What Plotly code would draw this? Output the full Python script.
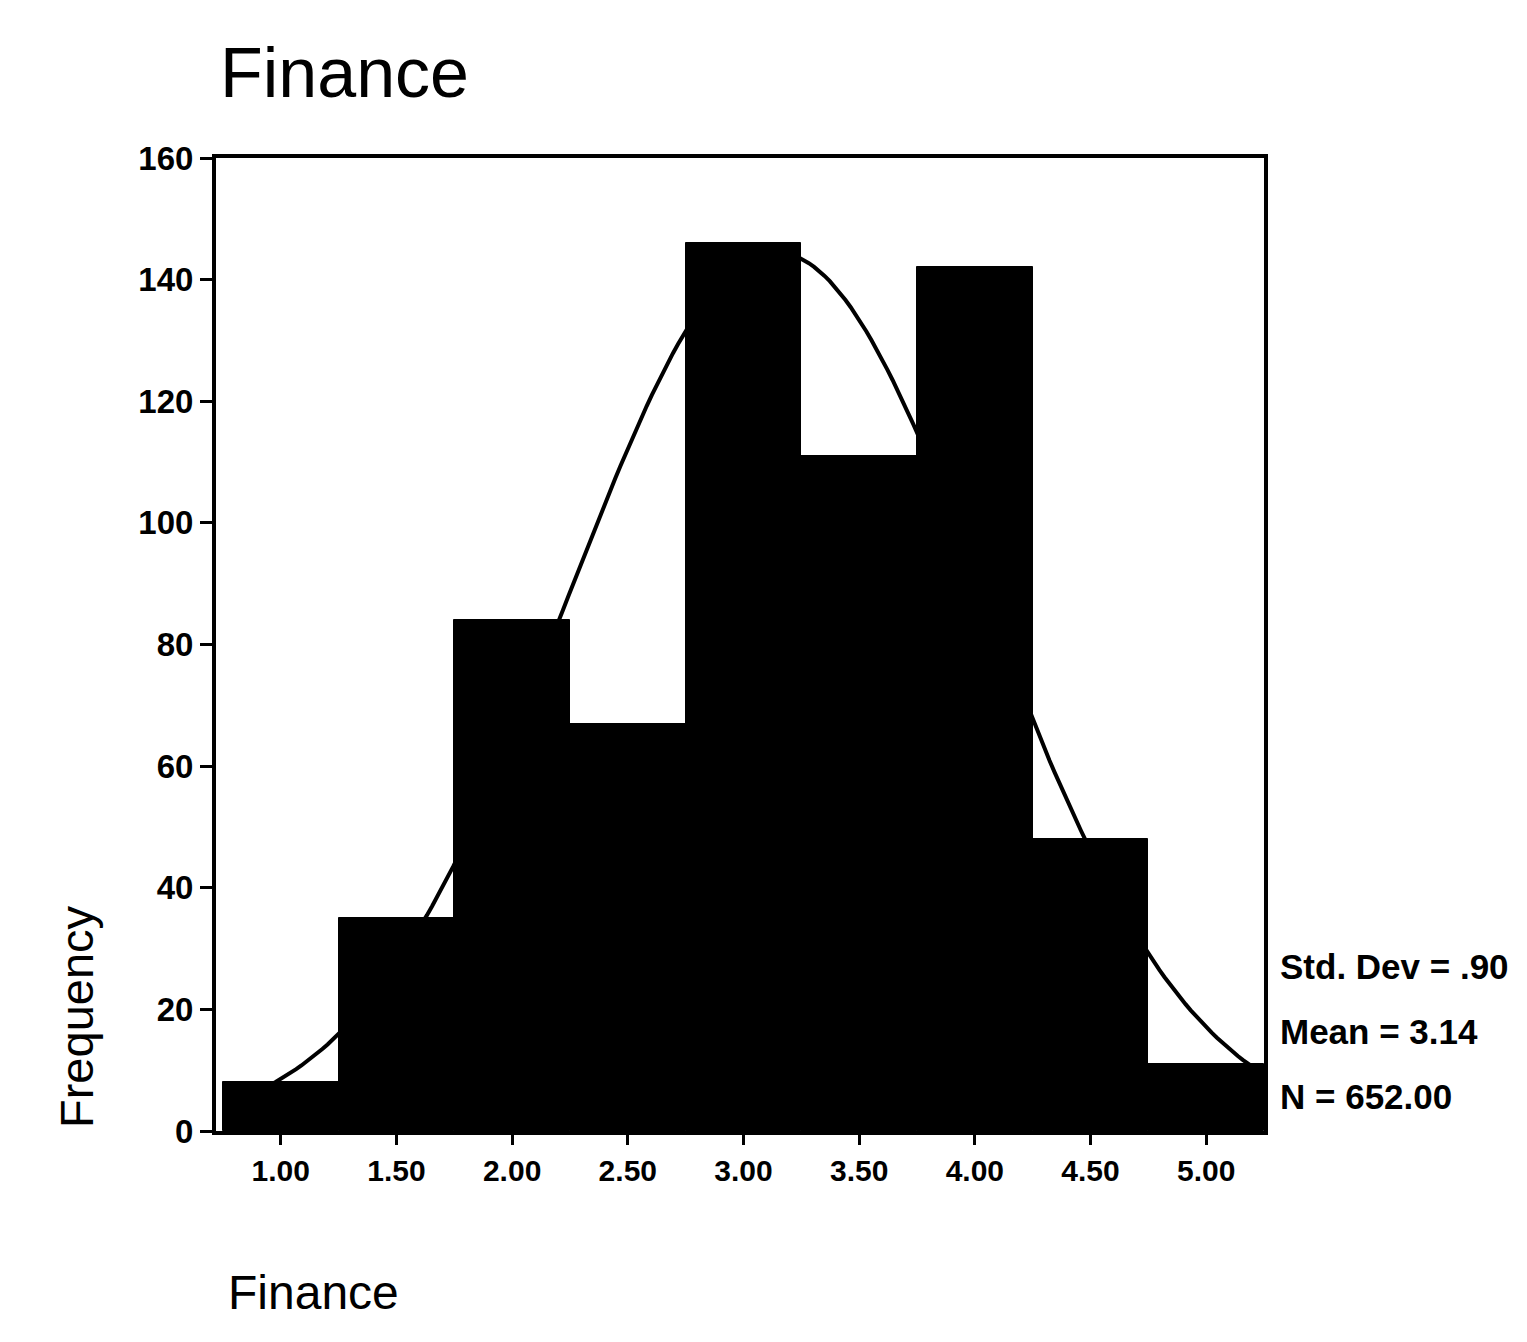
import numpy as np
import plotly.graph_objects as go

# Histogram bins (centres) and counts for the Finance score
BIN_CENTERS = [1.0, 1.5, 2.0, 2.5, 3.0, 3.5, 4.0, 4.5, 5.0]
FREQUENCIES = [8, 35, 84, 67, 146, 111, 142, 48, 11]
X_TICK_LABELS = ["1.00", "1.50", "2.00", "2.50", "3.00", "3.50", "4.00", "4.50", "5.00"]
Y_TICKS = [0, 20, 40, 60, 80, 100, 120, 140, 160]

# Summary statistics printed beside the plot
STD_DEV = 0.90
MEAN = 3.14
N = 652
BIN_WIDTH = 0.5

STAT_LINES = [f"Std. Dev = .{int(round(STD_DEV * 100))}",
              f"Mean = {MEAN:.2f}",
              f"N = {N:.2f}"]

W, H = 1527, 1342
L, R, T, B = 216, 263, 158, 211
X_RANGE = [0.72, 5.25]
Y_RANGE = [0, 160]

# Fitted normal curve scaled to the histogram counts, over the span of the bins
lo = BIN_CENTERS[0] - BIN_WIDTH / 2
hi = BIN_CENTERS[-1] + BIN_WIDTH / 2
curve_x = np.linspace(lo, hi, 200)
curve_y = (N * BIN_WIDTH / (STD_DEV * np.sqrt(2 * np.pi))
           * np.exp(-0.5 * ((curve_x - MEAN) / STD_DEV) ** 2))

FONT = "Liberation Sans, Arial, Helvetica, sans-serif"

fig = go.Figure()
fig.add_trace(go.Bar(
    x=BIN_CENTERS, y=FREQUENCIES, width=BIN_WIDTH,
    marker=dict(color="black", line=dict(color="black", width=1)),
    showlegend=False, hoverinfo="x+y",
))
fig.add_trace(go.Scatter(
    x=curve_x, y=curve_y, mode="lines",
    line=dict(color="black", width=4),
    showlegend=False, hoverinfo="skip",
))

plot_h = H - T - B
plot_w = W - L - R


def px_to_y(py):
    return Y_RANGE[0] + (T + plot_h - py) / plot_h * (Y_RANGE[1] - Y_RANGE[0])


def px_to_paper_x(px):
    return (px - L) / plot_w


annotations = []
for text, py in zip(STAT_LINES, [966, 1031, 1096]):
    annotations.append(dict(
        text=text, xref="paper", yref="y",
        x=px_to_paper_x(1278), y=px_to_y(py),
        xanchor="left", yanchor="middle", showarrow=False,
        font=dict(family=FONT, size=35, color="black", weight="bold"),
    ))

# axis titles placed freely, as in the original layout
annotations.append(dict(
    text="Frequency", xref="paper", yref="paper",
    x=px_to_paper_x(76), y=(T + plot_h - 1017) / plot_h,
    xanchor="center", yanchor="middle", textangle=-90, showarrow=False,
    font=dict(family=FONT, size=47, color="black"),
))
annotations.append(dict(
    text="Finance", xref="paper", yref="paper",
    x=px_to_paper_x(226), y=(T + plot_h - 1292) / plot_h,
    xanchor="left", yanchor="middle", showarrow=False,
    font=dict(family=FONT, size=48, color="black"),
))

fig.update_layout(
    width=W, height=H,
    margin=dict(l=L, r=R, t=T, b=B, pad=0),
    paper_bgcolor="white", plot_bgcolor="white",
    bargap=0,
    title=dict(
        text="Finance", x=220 / W, xanchor="left",
        y=1 - 72 / H, yanchor="middle", xref="container", yref="container",
        font=dict(family=FONT, size=70, color="black"),
    ),
    xaxis=dict(
        range=X_RANGE, tickmode="array", tickvals=BIN_CENTERS, ticktext=X_TICK_LABELS,
        ticks="outside", ticklen=10, tickwidth=3, tickcolor="black",
        showline=True, linewidth=4, linecolor="black", mirror=True,
        showgrid=False, zeroline=False,
        tickfont=dict(family=FONT, size=30, color="black", weight="bold"),
    ),
    yaxis=dict(
        range=Y_RANGE, tickmode="array", tickvals=Y_TICKS,
        ticks="outside", ticklen=12, tickwidth=3, tickcolor="black",
        showline=True, linewidth=4, linecolor="black", mirror=True,
        showgrid=False, zeroline=False,
        tickfont=dict(family=FONT, size=33, color="black", weight="bold"),
    ),
    annotations=annotations,
)

fig.write_html("out.html")
